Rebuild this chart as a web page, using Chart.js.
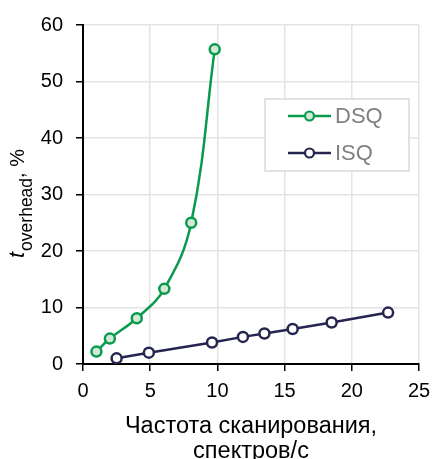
<!DOCTYPE html>
<html>
<head>
<meta charset="utf-8">
<script src="https://cdn.jsdelivr.net/npm/chart.js@4.4.1/dist/chart.umd.min.js"></script>
<style>
    html, body { margin: 0; padding: 0; background: #fff; }
    #wrap { width: 432px; height: 459px; }
</style>
</head>
<body>
<div id="wrap"><canvas id="chart"></canvas></div>
<script>
// values
const dsqX = [1.0, 2.0, 4.0, 6.05, 8.05, 9.8];
const dsqY = [2.2, 4.5, 8.1, 13.3, 25.0, 55.7];
const isqX = [2.5, 4.9, 9.6, 11.9, 13.5, 15.6, 18.5, 22.7];
const isqY = [1.0, 2.0, 3.8, 4.8, 5.4, 6.2, 7.35, 9.1];
const seriesNames = ['DSQ', 'ISQ'];
const xTitle = ['Частота сканирования,', 'спектров/с'];

const FONT = '"Liberation Sans", Arial, sans-serif';
const GREEN = '#0a9a4e';
const NAVY = '#25254f';

const toPoints = (xs, ys) => xs.map((x, i) => ({ x: x, y: ys[i] }));

// y title with subscript + legend box inside the plot
const extras = {
    id: 'extras',
    afterDraw(chart) {
        const c = chart.ctx;
        const area = chart.chartArea;

        // y axis title: t_overhead, %
        c.save();
        c.translate(24, 258);
        c.rotate(-Math.PI / 2);
        c.fillStyle = '#000';
        c.textBaseline = 'alphabetic';
        c.textAlign = 'left';
        c.font = 'italic 22px ' + FONT;
        c.fillText('t', 0, 0);
        let w = c.measureText('t').width;
        c.font = '17.5px ' + FONT;
        c.fillText('overhead', w + 1, 8);
        w += 1 + c.measureText('overhead').width;
        c.font = '20px ' + FONT;
        c.fillText(', %', w, 0);
        c.restore();

        // legend
        const bx = area.left + 182, by = area.top + 74, bw = 144, bh = 72;
        c.save();
        c.fillStyle = '#fff';
        c.fillRect(bx, by, bw, bh);
        c.strokeStyle = '#d9d9d9';
        c.lineWidth = 1.5;
        c.strokeRect(bx, by, bw, bh);
        chart.data.datasets.forEach((ds, i) => {
            const y = by + 17 + i * 37;
            c.strokeStyle = ds.borderColor;
            c.lineWidth = 2.5;
            c.beginPath();
            c.moveTo(bx + 23, y);
            c.lineTo(bx + 66, y);
            c.stroke();
            c.beginPath();
            c.arc(bx + 44.5, y, 4.5, 0, Math.PI * 2);
            c.fillStyle = ds.pointBackgroundColor;
            c.fill();
            c.lineWidth = 2.2;
            c.strokeStyle = ds.pointBorderColor;
            c.stroke();
            c.fillStyle = '#808080';
            c.font = '22px ' + FONT;
            c.textBaseline = 'middle';
            c.fillText(ds.label, bx + 70, y + 1);
        });
        c.restore();
    }
};

const ctx = document.querySelector('#chart').getContext('2d');
const chart = new Chart(ctx, {
    type: 'scatter',
    data: {
        datasets: [{
            label: seriesNames[0],
            data: toPoints(dsqX, dsqY),
            showLine: true,
            tension: 0.4,
            borderColor: GREEN,
            borderWidth: 2.5,
            pointBackgroundColor: '#d3e8d6',
            pointBorderColor: GREEN,
            pointBorderWidth: 2.5,
            pointRadius: 5
        }, {
            label: seriesNames[1],
            data: toPoints(isqX, isqY),
            showLine: true,
            tension: 0,
            borderColor: NAVY,
            borderWidth: 2.5,
            pointBackgroundColor: '#fff',
            pointBorderColor: NAVY,
            pointBorderWidth: 2.5,
            pointRadius: 5
        }]
    },
    options: {
        responsive: true,
        maintainAspectRatio: false,
        animation: false,
        layout: { padding: { top: 24, right: 13, left: 0, bottom: 0 } },
        plugins: {
            legend: { display: false },
            tooltip: { enabled: false }
        },
        scales: {
            x: {
                type: 'linear',
                min: 0,
                max: 25,
                ticks: {
                    stepSize: 5,
                    color: '#000',
                    padding: 8,
                    maxRotation: 0,
                    font: { family: FONT, size: 20 }
                },
                grid: { color: '#e4e4e4', lineWidth: 1.5, tickColor: '#000', tickLength: 7 },
                border: { color: '#000', width: 2 },
                title: {
                    display: true,
                    text: xTitle,
                    color: '#000',
                    font: { family: FONT, size: 23.5, lineHeight: 1.05 },
                    padding: { top: 6, bottom: -5 }
                },
                afterFit(scale) {
                    scale.height = 95;
                    scale.paddingRight = 0;
                    scale.paddingLeft = 0;
                }
            },
            y: {
                min: 0,
                max: 60,
                ticks: {
                    stepSize: 10,
                    color: '#000',
                    padding: 13,
                    font: { family: FONT, size: 20 }
                },
                grid: { color: '#e4e4e4', lineWidth: 1.5, tickColor: '#000', tickLength: 7 },
                border: { color: '#000', width: 2 },
                afterFit(scale) { scale.width = 83; }
            }
        }
    },
    plugins: [extras]
});
</script>
</body>
</html>
